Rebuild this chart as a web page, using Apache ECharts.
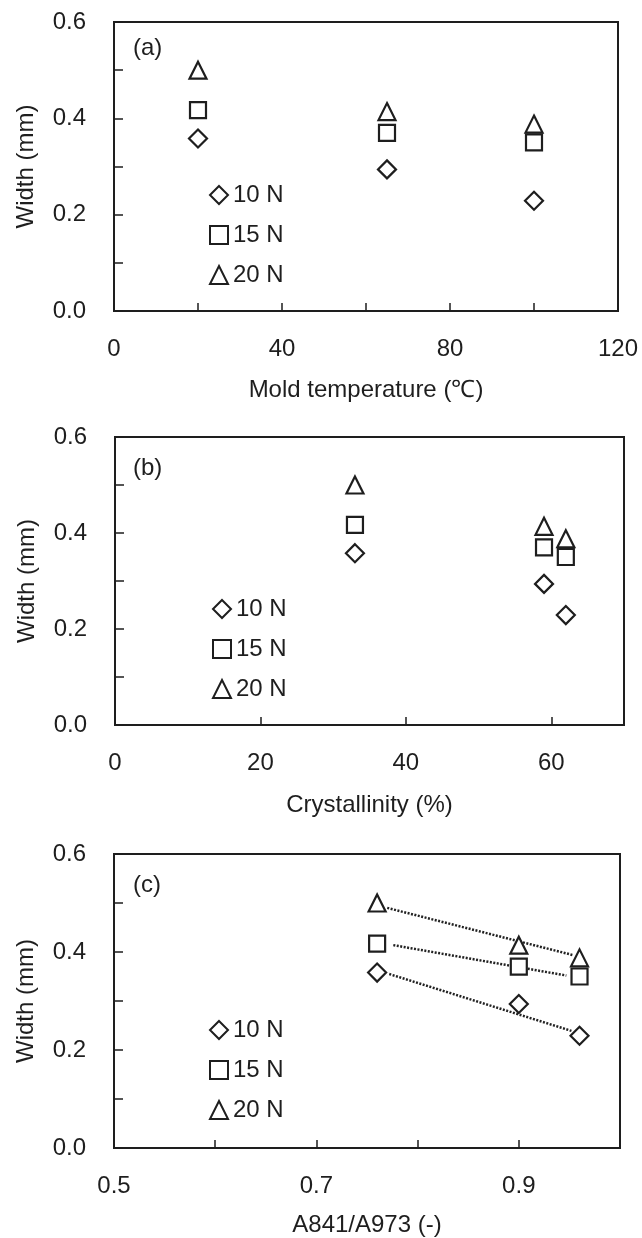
<!DOCTYPE html>
<html>
<head>
<meta charset="utf-8">
<script src="https://cdn.jsdelivr.net/npm/echarts@6/dist/echarts.min.js"></script>
<style>
  html, body { margin: 0; padding: 0; background: #fff; }
  #chart { width: 642px; height: 1238px; }
</style>
</head>
<body>
<div id="chart"></div>
<script>
// x values for the three panels
const moldTemp = [20, 65, 100];
const crystallinity = [33, 59, 62];
const absRatio = [0.76, 0.90, 0.96];

// groove width (mm) for each load
const loads = ['10 N', '15 N', '20 N'];
const width10 = [0.358, 0.294, 0.229];
const width15 = [0.417, 0.370, 0.350];
const width20 = [0.500, 0.414, 0.388];

// dotted fit lines in panel (c), end points
const fit10x = [0.772, 0.952], fit10y = [0.355, 0.239];
const fit15x = [0.776, 0.947], fit15y = [0.414, 0.352];
const fit20x = [0.770, 0.953], fit20y = [0.490, 0.394];

const font = 'Liberation Sans, Arial, Helvetica, sans-serif';
const ink = '#1e1e1e';
const symbols = ['diamond', 'rect', 'triangle'];
const sizes = [[18, 18], [16, 16], [17, 17]];
const widths = [width10, width15, width20];

function pairs(xs, ys) {
  return xs.map((x, i) => [x, ys[i]]);
}

const grids = [
  { left: 114, top: 22, right: 24, height: 289 },
  { left: 115, top: 437, right: 18, height: 288 },
  { left: 114, top: 854, right: 22, height: 296 }
];

function yAxis(idx) {
  return {
    type: 'value', gridIndex: idx, min: 0, max: 0.6, interval: 0.1,
    name: 'Width (mm)', nameLocation: 'middle', nameGap: 76,
    nameTextStyle: { fontFamily: font, fontSize: 24, color: ink },
    axisLine: { show: true, lineStyle: { color: ink, width: 2 } },
    axisTick: { show: true, inside: true, length: 9, lineStyle: { color: ink, width: 1.5 } },
    axisLabel: {
      margin: 28, fontFamily: font, fontSize: 24, color: ink,
      formatter: v => (Math.round(v * 10) % 2 === 0 ? v.toFixed(1) : '')
    },
    splitLine: { show: false }
  };
}

function xAxis(idx, cfg) {
  return {
    type: 'value', gridIndex: idx, min: cfg.min, max: cfg.max, interval: cfg.interval,
    name: cfg.name, nameLocation: 'middle', nameGap: cfg.nameGap,
    nameTextStyle: { fontFamily: font, fontSize: 24, color: ink },
    axisLine: { show: true, onZero: false, lineStyle: { color: ink, width: 2 } },
    axisTick: { show: true, inside: true, length: 8, lineStyle: { color: ink, width: 1.5 } },
    axisLabel: { margin: 26, fontFamily: font, fontSize: 24, color: ink, formatter: cfg.fmt },
    splitLine: { show: false }
  };
}

const xs = [moldTemp, crystallinity, absRatio];
const series = [];
xs.forEach((xv, g) => {
  loads.forEach((name, k) => {
    series.push({
      name: name, type: 'scatter', xAxisIndex: g, yAxisIndex: g,
      symbol: symbols[k], symbolSize: sizes[k],
      itemStyle: { color: '#fff', borderColor: ink, borderWidth: 2.2, opacity: 1 },
      data: pairs(xv, widths[k]),
      z: 3
    });
  });
});

[[fit10x, fit10y], [fit15x, fit15y], [fit20x, fit20y]].forEach((f, k) => {
  series.push({
    name: 'fit ' + loads[k], type: 'line', xAxisIndex: 2, yAxisIndex: 2,
    showSymbol: false, symbol: 'none', silent: true,
    lineStyle: { color: '#222', width: 2.5, type: [2, 1.5] },
    data: pairs(f[0], f[1]),
    z: 2
  });
});

function legend(left, top) {
  return {
    data: loads, orient: 'vertical', left: left, top: top,
    padding: 0, itemGap: 16, itemWidth: 18, itemHeight: 18,
    selectedMode: false,
    textStyle: { fontFamily: font, fontSize: 24, color: ink, lineHeight: 24 }
  };
}

const chart = echarts.init(document.getElementById('chart'), null, { renderer: 'canvas' });
chart.setOption({
  animation: false,
  backgroundColor: '#fff',
  grid: grids.map(g => Object.assign({ show: true, borderColor: ink, borderWidth: 2, backgroundColor: 'transparent' }, g)),
  title: [
    { text: '(a)', left: 133, top: 36 },
    { text: '(b)', left: 133, top: 456 },
    { text: '(c)', left: 133, top: 873 }
  ].map(t => Object.assign({ padding: 0, textStyle: { fontFamily: font, fontSize: 24, fontWeight: 'normal', color: ink } }, t)),
  legend: [legend(209, 183), legend(212, 597), legend(209, 1018)],
  xAxis: [
    xAxis(0, { min: 0, max: 120, interval: 20, name: 'Mold temperature (\u2103)', nameGap: 67,
      fmt: v => (v % 40 === 0 ? String(v) : '') }),
    xAxis(1, { min: 0, max: 70, interval: 20, name: 'Crystallinity (%)', nameGap: 68,
      fmt: v => (v % 20 === 0 ? String(v) : '') }),
    xAxis(2, { min: 0.5, max: 1.0, interval: 0.1, name: 'A841/A973 (-)', nameGap: 65,
      fmt: v => { const t = Math.round(v * 10); return (t % 2 === 1 && t < 10) ? v.toFixed(1) : ''; } })
  ],
  yAxis: [yAxis(0), yAxis(1), yAxis(2)],
  series: series
});
</script>
</body>
</html>
